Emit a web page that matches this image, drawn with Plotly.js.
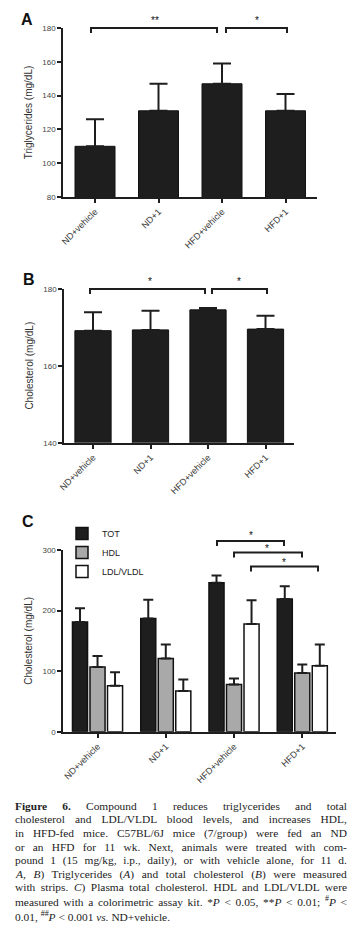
<!DOCTYPE html>
<html>
<head>
<meta charset="utf-8">
<script src="https://cdn.plot.ly/plotly-3.0.1.min.js"></script>
<style>html,body{margin:0;padding:0;background:#fff;}#chart{width:360px;height:931px;}</style>
</head>
<body>
<div id="chart"></div>
<script>
// ---- data ----
const groups = ['ND+vehicle', 'ND+1', 'HFD+vehicle', 'HFD+1'];
// Panel A: triglycerides (mg/dL), mean and upper SEM
const trigMean = [110, 131, 147, 131];
const trigErr = [16, 16, 12, 10];
// Panel B: cholesterol (mg/dL)
const cholMean = [169.1, 169.3, 174.5, 169.5];
const cholErr = [4.8, 5.0, 0.5, 3.5];
// Panel C: TOT / HDL / LDL-VLDL (mg/dL)
const totMean = [181, 187, 246, 219];
const totErr = [23, 31, 12, 21];
const hdlMean = [107, 121, 78, 97];
const hdlErr = [18, 23, 10, 14];
const ldlMean = [76, 67, 178, 109];
const ldlErr = [22, 19, 39, 35];
const seriesNames = ['TOT', 'HDL', 'LDL/VLDL'];
const yTitleA = 'Triglycerides (mg/dL)';
const yTitleB = 'Cholesterol (mg/dL)';
const yTitleC = 'Cholesterol (mg/dL)';
const captionLines = [
  '<b>Figure 6.</b> Compound 1 reduces triglycerides and total',
  'cholesterol and LDL/VLDL blood levels, and increases HDL,',
  'in HFD-fed mice. C57BL/6J mice (7/group) were fed an ND',
  'or an HFD for 11 wk. Next, animals were treated with com-',
  'pound 1 (15 mg/kg, i.p., daily), or with vehicle alone, for 11 d.',
  '<i>A, B</i>) Triglycerides (<i>A</i>) and total cholesterol (<i>B</i>) were measured',
  'with strips. <i>C</i>) Plasma total cholesterol. HDL and LDL/VLDL were',
  'measured with a colorimetric assay kit. *<i>P</i> &lt; 0.05, **<i>P</i> &lt; 0.01; <sup>#</sup><i>P</i> &lt;',
  '0.01, <sup>##</sup><i>P</i> &lt; 0.001 <i>vs.</i> ND+vehicle.'
];

// ---- layout helpers ----
const W = 360, H = 931;
const px = x => x / W;
const py = y => 1 - y / H;
const INK = '#1e1e1e';
const SANS = 'Liberation Sans, Arial, sans-serif';
const zeros = n => new Array(n).fill(0);
const CAP_LEFT = 13, CAP_RIGHT = 345;

function err(arr, w) {
  return {type: 'data', array: arr, arrayminus: zeros(arr.length), symmetric: false,
          color: INK, thickness: 2, width: w};
}

const traces = [
  {type: 'bar', x: groups, y: trigMean, xaxis: 'x', yaxis: 'y', width: 0.63, showlegend: false,
   marker: {color: INK, line: {color: '#111', width: 1}}, error_y: err(trigErr, 9), hoverinfo: 'none'},
  {type: 'bar', x: groups, y: cholMean, xaxis: 'x2', yaxis: 'y2', width: 0.63, showlegend: false,
   marker: {color: INK, line: {color: '#111', width: 1}}, error_y: err(cholErr, 9), hoverinfo: 'none'},
  {type: 'bar', name: seriesNames[0], x: groups, y: totMean, xaxis: 'x3', yaxis: 'y3',
   marker: {color: INK, line: {color: '#111', width: 1.5}}, error_y: err(totErr, 5), hoverinfo: 'none'},
  {type: 'bar', name: seriesNames[1], x: groups, y: hdlMean, xaxis: 'x3', yaxis: 'y3',
   marker: {color: '#a9a9a9', line: {color: '#111', width: 1.5}}, error_y: err(hdlErr, 5), hoverinfo: 'none'},
  {type: 'bar', name: seriesNames[2], x: groups, y: ldlMean, xaxis: 'x3', yaxis: 'y3',
   marker: {color: '#ffffff', line: {color: '#111', width: 1.5}}, error_y: err(ldlErr, 5), hoverinfo: 'none'}
];

function xAxis(dom, anchor) {
  return {domain: dom, anchor: anchor, type: 'category', showline: true, linecolor: INK, linewidth: 2,
          ticks: 'outside', ticklen: 4, tickwidth: 2, tickcolor: INK, showgrid: false, zeroline: false,
          tickangle: -45, tickfont: {family: SANS, size: 9, color: '#333'}, fixedrange: true};
}
function yAxis(dom, anchor, range, dtick, title) {
  return {domain: dom, anchor: anchor, range: range, dtick: dtick, showline: true, linecolor: INK, linewidth: 2,
          ticks: 'outside', ticklen: 4, tickwidth: 2, tickcolor: INK, showgrid: false, zeroline: false,
          tickfont: {family: SANS, size: 8, color: '#444'}, fixedrange: true,
          title: {text: title, font: {family: SANS, size: 10, color: '#333'}, standoff: 8}};
}

function bracket(x1, x2, y, leg) {
  return {type: 'path', xref: 'paper', yref: 'paper',
          path: `M${px(x1)},${py(y + leg)} L${px(x1)},${py(y)} L${px(x2)},${py(y)} L${px(x2)},${py(y + leg)}`,
          line: {color: INK, width: 2}};
}
function star(text, x, y) {
  return {xref: 'paper', yref: 'paper', x: px(x), y: py(y), text: text, showarrow: false,
          xanchor: 'center', yanchor: 'middle', font: {family: SANS, size: 10, color: '#111'}};
}
function letter(t, x, y) {
  return {xref: 'paper', yref: 'paper', x: px(x), y: py(y), text: '<b>' + t + '</b>', showarrow: false,
          xanchor: 'left', yanchor: 'middle', font: {family: SANS, size: 16, color: '#111'}};
}

const annotations = [
  letter('A', 19, 20), letter('B', 21, 279), letter('C', 20, 521),
  star('**', 155, 21), star('*', 257, 21),
  star('*', 150, 281), star('*', 239, 281),
  star('*', 251, 535), star('*', 267, 548.5), star('*', 284, 562)
];
const capStart = annotations.length;
captionLines.forEach((t, i) => {
  annotations.push({xref: 'paper', yref: 'paper', x: px(CAP_LEFT), y: py(805.7 + i * 13.66 + (i === 8 ? 1 : 0)), text: t,
    showarrow: false, xanchor: 'left', yanchor: 'middle', align: 'left',
    font: {family: 'Liberation Serif, Times New Roman, serif', size: 11.4, color: '#222'}});
});

const layout = {
  width: W, height: H, margin: {l: 0, r: 0, t: 0, b: 0},
  paper_bgcolor: '#ffffff', plot_bgcolor: '#ffffff',
  barmode: 'group', bargap: 0.23, bargroupgap: 0.14,
  font: {family: SANS, color: '#333'},
  xaxis: xAxis([px(63.25), px(317.25)], 'y'),
  yaxis: yAxis([py(197), py(28)], 'x', [80, 180], 20, yTitleA),
  xaxis2: xAxis([px(64.25), px(294.25)], 'y2'),
  yaxis2: yAxis([py(442.7), py(288.7)], 'x2', [140, 180], 20, yTitleB),
  xaxis3: xAxis([px(63.4), px(336.4)], 'y3'),
  yaxis3: yAxis([py(731.7), py(550)], 'x3', [0, 300], 100, yTitleC),
  showlegend: true,
  legend: {x: px(62), y: py(519), xanchor: 'left', yanchor: 'top', bgcolor: 'rgba(0,0,0,0)',
           font: {family: SANS, size: 9, color: '#222'}, tracegroupgap: 0, itemclick: false},
  shapes: [
    bracket(91, 217, 28, 5), bracket(226, 287, 28, 5),
    bracket(90, 205, 289, 5), bracket(212, 267, 289, 5),
    bracket(217, 284, 541, 5), bracket(234, 302, 552.5, 5), bracket(251, 318, 566.5, 5)
  ],
  annotations: annotations
};

Plotly.newPlot('chart', traces, layout, {staticPlot: true, displayModeBar: false}).then(gd => {
  // justify the caption lines (all but the last) to the column width
  const anns = gd.querySelectorAll('.annotation');
  const target = CAP_RIGHT - CAP_LEFT;
  for (let i = 0; i < captionLines.length - 1; i++) {
    const g = anns[capStart + i];
    if (!g) continue;
    const txt = g.querySelector('text.annotation-text');
    if (!txt) continue;
    const w = txt.getBBox().width;
    const spaces = (txt.textContent.match(/ /g) || []).length;
    if (spaces > 0) txt.style.wordSpacing = ((target - w) / spaces).toFixed(2) + 'px';
  }
});
</script>
</body>
</html>
